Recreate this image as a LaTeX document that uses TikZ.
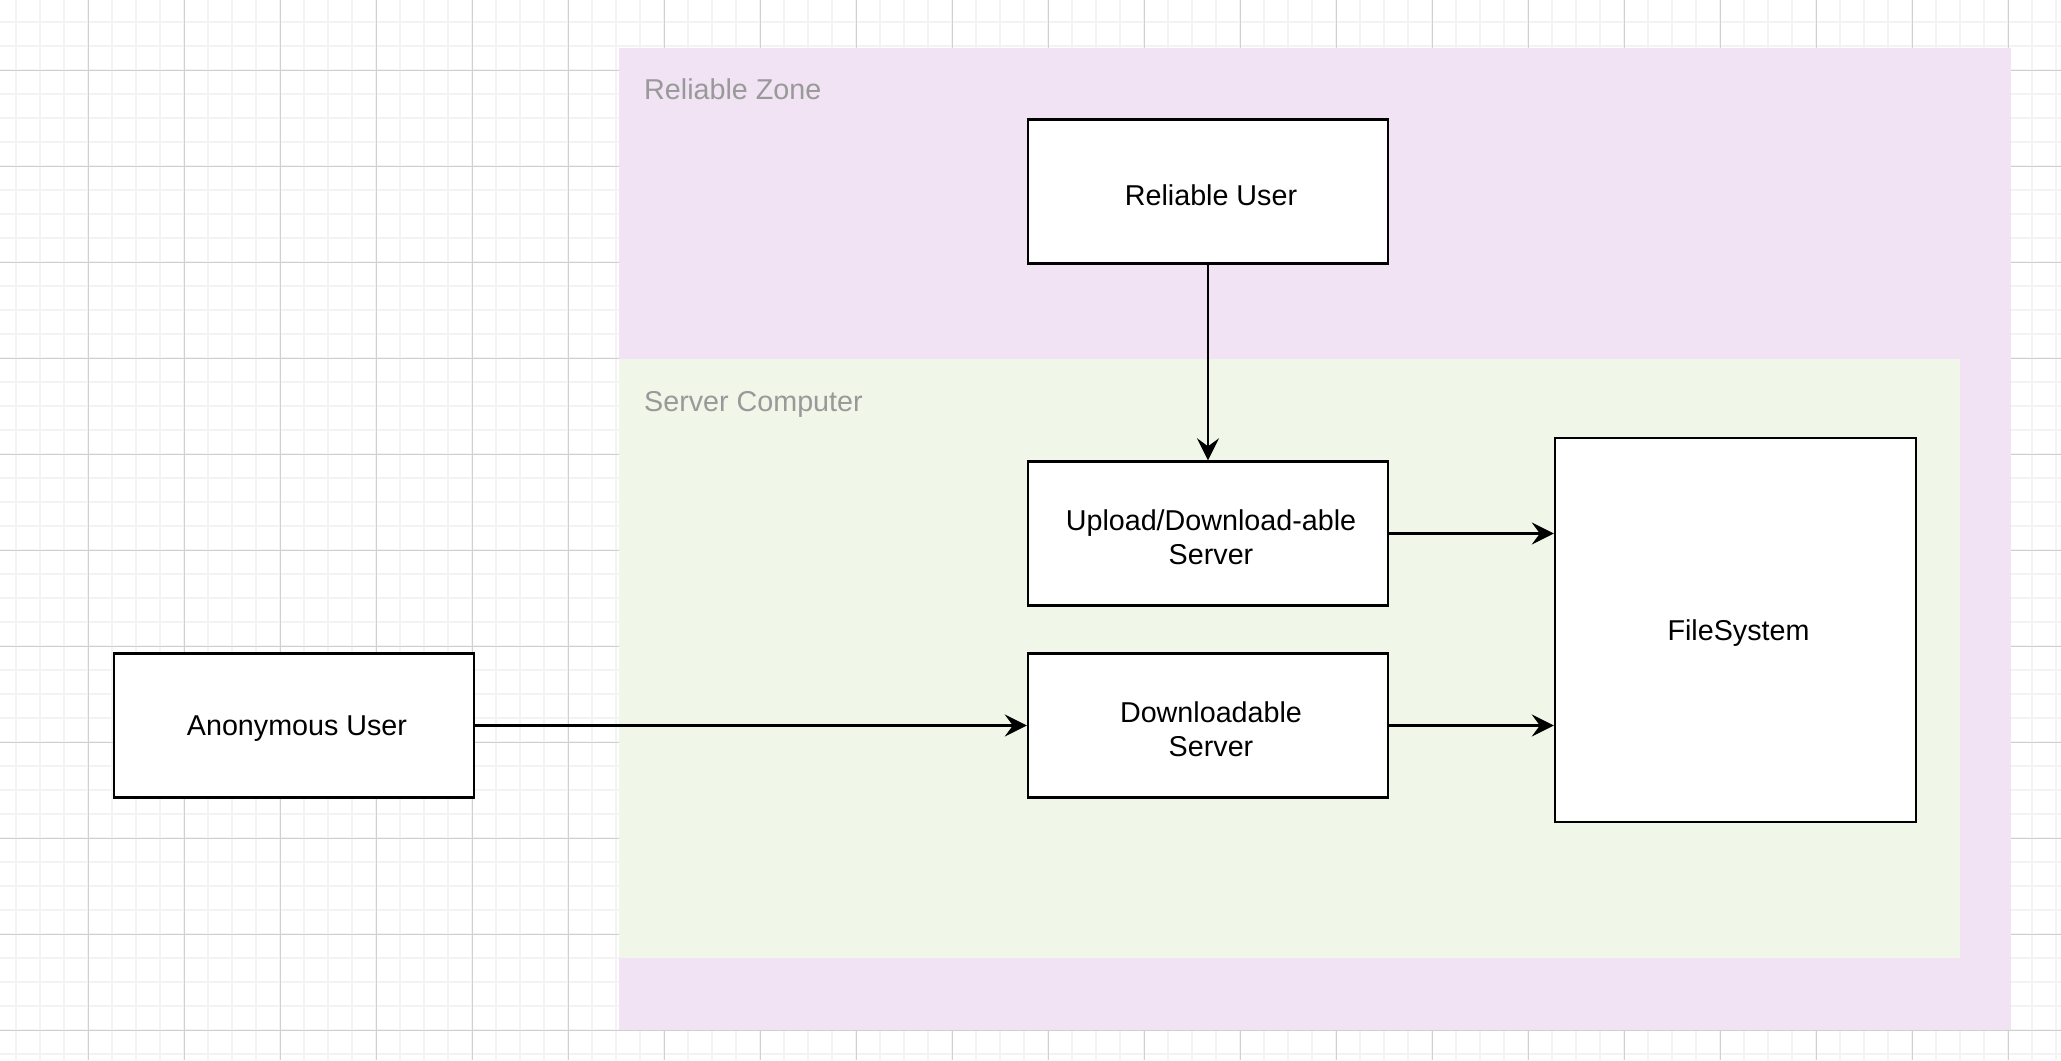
\documentclass[tikz,border=0pt]{standalone}
\usepackage{fontspec}
\setmainfont{Liberation Sans}
\usetikzlibrary{arrows.meta}
\definecolor{zonepink}{HTML}{F1E3F4}
\definecolor{servergreen}{HTML}{F0F6E8}
\definecolor{gridminor}{HTML}{F3F3F3}
\definecolor{gridmajor}{HTML}{D0D0D0}
\definecolor{labelgray}{HTML}{999999}
\begin{document}
\begin{tikzpicture}[x=1pt,y=-1pt,
  box/.style={draw=black, line width=2.4pt, fill=white, inner sep=0pt},
  boxtext/.style={align=center, font=\fontsize{28.7}{34}\selectfont,
    inner sep=0pt, xshift=3pt, yshift=-3.5pt},
  conn/.style={line width=2.4pt, -{Stealth[length=22pt,width=22pt,inset=8pt]}},
  zone/.style={inner sep=0pt, anchor=north west},
  zonelabel/.style={anchor=base west, text=labelgray,
    font=\fontsize{28.7}{34}\selectfont, inner sep=0pt}]
\useasboundingbox (0,0) rectangle (2061,1060);
\fill[white] (0,0) rectangle (2061,1060);
% grid
\foreach \x in {16,40,...,2060} \draw[gridminor, line width=1.5pt] (\x,0) -- (\x,1060);
\foreach \y in {22,46,...,1060} \draw[gridminor, line width=1.5pt] (0,\y) -- (2061,\y);
\foreach \x in {88,184,...,2060} \draw[gridmajor, line width=1pt] (\x,0) -- (\x,1060);
\foreach \y in {70,166,...,1060} \draw[gridmajor, line width=1pt] (0,\y) -- (2061,\y);
% zones
\node[zone, fill=zonepink, minimum width=1392pt, minimum height=982pt] (rz) at (619,48) {};
\node[zone, fill=servergreen, minimum width=1341pt, minimum height=599pt] (sc) at (619,359) {};
\node[zonelabel] (rzl) at (644,99.5) {Reliable Zone};
\node[zonelabel] (scl) at (644,411) {Server Computer};
% boxes
\node[box, minimum width=360pt, minimum height=144pt] (ru) at (1208,191.5) {};
\node[box, minimum width=360pt, minimum height=144pt] (ud) at (1208,533.5) {};
\node[box, minimum width=360pt, minimum height=144pt] (dl) at (1208,725.5) {};
\node[box, minimum width=360pt, minimum height=144pt] (an) at (294,725.5) {};
\node[box, minimum width=361pt, minimum height=384pt] (fs) at (1735.5,630) {};
\node[boxtext] (rut) at (ru.center) {Reliable User};
\node[boxtext] (udt) at (ud.center) {Upload/Download-able\\Server};
\node[boxtext] (dlt) at (dl.center) {Downloadable\\Server};
\node[boxtext] (ant) at (an.center) {Anonymous User};
\node[boxtext] (fst) at (fs.center) {FileSystem};
% connectors
\draw[conn] (ru.south) -- (ud.north);
\draw[conn] (an.east) -- (dl.west);
\draw[conn] (ud.east) -- (fs.west |- ud.east);
\draw[conn] (dl.east) -- (fs.west |- dl.east);
\end{tikzpicture}
\end{document}
